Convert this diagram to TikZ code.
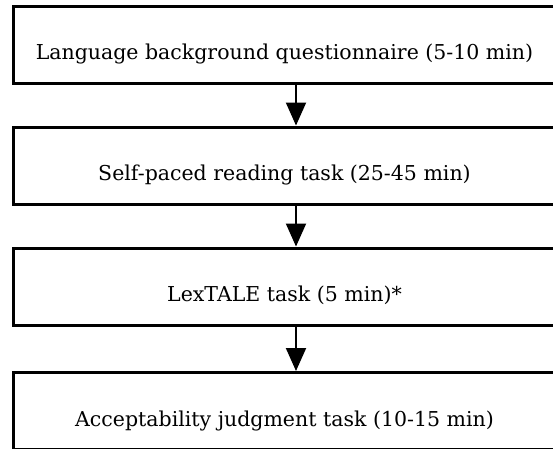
\documentclass[tikz,border=0pt]{standalone}
\usepackage{fontspec}
\setmainfont{DejaVu Serif}
\usetikzlibrary{arrows.meta}

\tikzset{
  taskbox/.style={draw, line width=3pt, minimum width=543pt, minimum height=77pt,
    inner sep=0pt, text height=30pt, text depth=0pt, font=\fontsize{20.5}{24}\selectfont},
  flow/.style={line width=2pt, -{Triangle[length=23pt,width=20pt]}}
}

\begin{document}
\begin{tikzpicture}[x=1pt,y=1pt]

\useasboundingbox (0,0) rectangle (553,448);
\clip (0,0) rectangle (553,448);

\node[taskbox] (lbq) at (284.5,403)  {Language background questionnaire (5-10 min)};
\node[taskbox] (spr) at (284.5,282.5){Self-paced reading task (25-45 min)};
\node[taskbox] (lex) at (284.5,161.5){LexTALE task (5 min)*};
\node[taskbox] (ajt) at (284.5,37)   {Acceptability judgment task (10-15 min)};

\coordinate (axis) at (296,0);

\draw[flow] (lbq.south -| axis) -- (spr.north -| axis);
\draw[flow] (spr.south -| axis) -- (lex.north -| axis);
\draw[flow] (lex.south -| axis) -- (ajt.north -| axis);

\end{tikzpicture}
\end{document}
